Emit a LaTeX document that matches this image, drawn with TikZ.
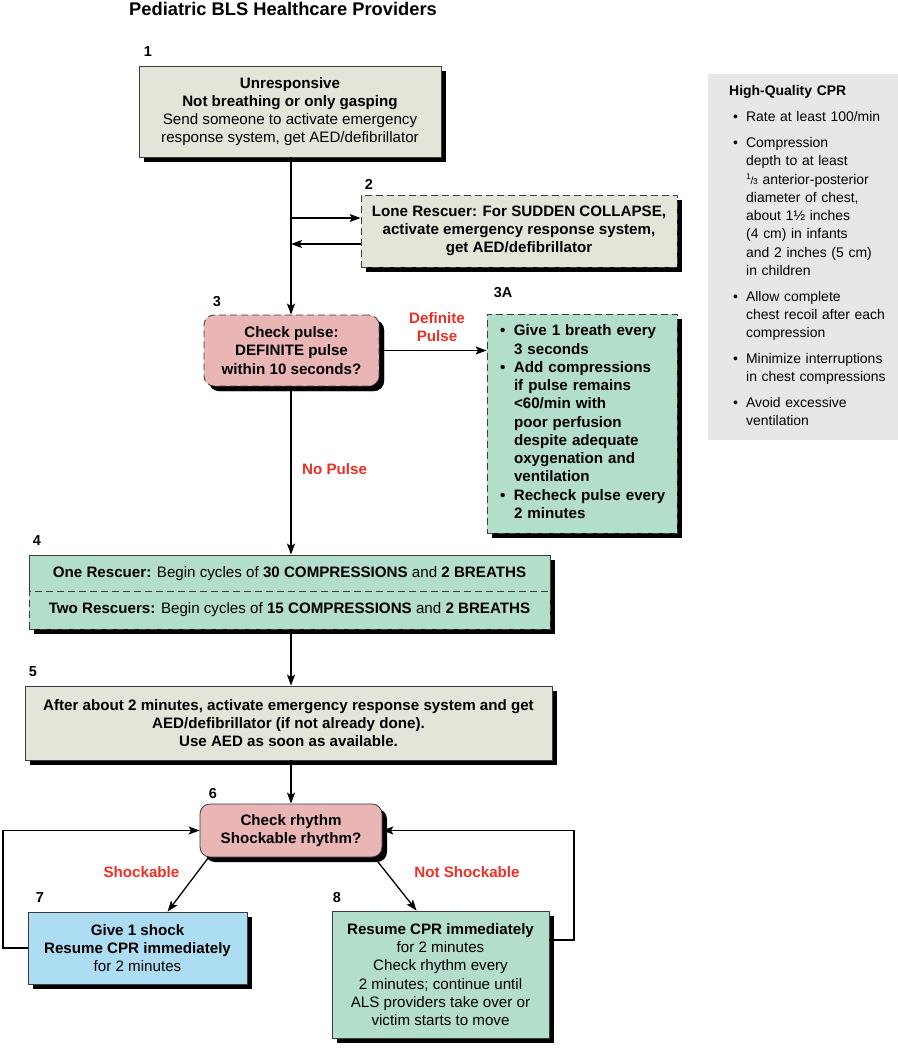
\documentclass[tikz,border=0pt]{standalone}
\usepackage{fontspec}
\setmainfont{Liberation Sans}
\usetikzlibrary{arrows.meta,shadows,calc}
\definecolor{beige}{RGB}{229,228,217}
\definecolor{pinkbox}{RGB}{234,181,181}
\definecolor{tealbox}{RGB}{178,222,203}
\definecolor{bluebox}{RGB}{172,221,243}
\definecolor{panelgray}{RGB}{230,231,232}
\definecolor{redlab}{RGB}{238,48,36}
\definecolor{edgegray}{RGB}{60,60,60}
\newcommand\mysz{\fontsize{15.2}{18.3}\selectfont}
\newcommand\panelsz{\fontsize{14}{18.3}\selectfont}
\newcommand\thirdfrac{\raisebox{0.36em}{\fontsize{8.5}{9}\selectfont 1}\kern-0.3bp{\fontsize{10.5}{11}\selectfont /}\kern-0.3bp{\fontsize{8.5}{9}\selectfont 3}}
\begin{document}
\begin{tikzpicture}[x=1bp,y=-1bp,
  box/.style={draw=edgegray, line width=0.8bp, align=center, inner sep=0pt, font=\mysz,
    drop shadow={shadow xshift=5bp, shadow yshift=-5bp, opacity=1, fill=black}},
  dashedbox/.style={box, dash pattern=on 7bp off 4bp},
  roundbox/.style={box, rounded corners=10bp},
  arr/.style={line width=1.3bp, -{Stealth[length=11bp,width=8bp,inset=2.5bp]}},
  numlab/.style={font=\fontsize{14.5}{14.5}\selectfont\bfseries, inner sep=0pt},
  redtxt/.style={font=\mysz\bfseries, text=redlab, align=center, inner sep=0pt}]
\useasboundingbox (0,0) rectangle (898,1050);

% title
\node[font=\fontsize{18.4}{20}\selectfont\bfseries, anchor=base west, inner sep=0pt] (title) at (129,15.5) {Pediatric BLS Healthcare Providers};

% boxes
\node[box, fill=beige, minimum width=302bp, minimum height=91bp] (b1) at (290,111.5)
 {\textbf{Unresponsive}\\ \textbf{Not breathing or only gasping}\\ Send someone to activate emergency\\ response system, get AED/defibrillator};

\node[dashedbox, fill=beige, minimum width=316bp, minimum height=72bp, font=\mysz\bfseries] (b2) at (519,231)
 {Lone Rescuer: For SUDDEN COLLAPSE,\\ activate emergency response system,\\ get AED/defibrillator};

\node[dashedbox, roundbox, fill=pinkbox, minimum width=175bp, minimum height=71bp, font=\mysz\bfseries] (b3) at (291.5,350.5)
 {Check pulse:\\ DEFINITE pulse\\ within 10 seconds?};

\node[dashedbox, fill=tealbox, minimum width=190bp, minimum height=219bp, text width=164bp, inner xsep=13bp, align=left, font=\mysz\bfseries] (b3a) at (582,423.5)
 {\begin{tabular}{@{}l@{}}
 \textbullet\hspace{8.6bp}Give 1 breath every\\
 \hspace*{14bp}3 seconds\\
 \textbullet\hspace{8.6bp}Add compressions\\
 \hspace*{14bp}if pulse remains\\
 \hspace*{14bp}<60/min with\\
 \hspace*{14bp}poor perfusion\\
 \hspace*{14bp}despite adequate\\
 \hspace*{14bp}oxygenation and\\
 \hspace*{14bp}ventilation\\
 \textbullet\hspace{8.6bp}Recheck pulse every\\
 \hspace*{14bp}2 minutes
 \end{tabular}};

\node[box, fill=tealbox, minimum width=521bp, minimum height=37bp] (b4a) at (289.5,573.5)
 {\textbf{One Rescuer:} Begin cycles of \textbf{30 COMPRESSIONS} and \textbf{2 BREATHS}};
\node[dashedbox, fill=tealbox, minimum width=521bp, minimum height=38bp] (b4b) at (289.5,610)
 {\textbf{Two Rescuers:} Begin cycles of \textbf{15 COMPRESSIONS} and \textbf{2 BREATHS}};

\node[box, fill=beige, minimum width=527bp, minimum height=74bp, font=\mysz\bfseries] (b5) at (288.5,723)
 {After about 2 minutes, activate emergency response system and get\\ AED/defibrillator (if not already done).\\ Use AED as soon as available.};

\node[roundbox, fill=pinkbox, minimum width=182bp, minimum height=53bp, font=\mysz\bfseries] (b6) at (291,830.5)
 {Check rhythm\\ Shockable rhythm?};

\node[box, fill=bluebox, minimum width=219bp, minimum height=72bp] (b7) at (137.5,948)
 {\textbf{Give 1 shock}\\ \textbf{Resume CPR immediately}\\ for 2 minutes};

\node[box, fill=tealbox, minimum width=217bp, minimum height=127bp] (b8) at (440.5,974.5)
 {\textbf{Resume CPR immediately}\\ for 2 minutes\\ Check rhythm every\\ 2 minutes; continue until\\ ALS providers take over or\\ victim starts to move};

% side panel
\node[fill=panelgray, anchor=north west, minimum width=190bp, minimum height=366bp, text width=166bp, inner xsep=12bp, inner ysep=0pt, align=left, font=\panelsz] (cpr) at (708,74)
 {\begin{tabular}{@{}l@{}}
 \hspace*{9bp}\textbf{High-Quality CPR}\\[7.7bp]
 \hspace*{13bp}\textbullet\hspace{8bp}Rate at least 100/min\\[7.7bp]
 \hspace*{13bp}\textbullet\hspace{8bp}Compression\\
 \hspace*{26bp}depth to at least\\
 \hspace*{26bp}\thirdfrac{} anterior-posterior\\
 \hspace*{26bp}diameter of chest,\\
 \hspace*{26bp}about 1½ inches\\
 \hspace*{26bp}(4 cm) in infants\\
 \hspace*{26bp}and 2 inches (5 cm)\\
 \hspace*{26bp}in children\\[7.7bp]
 \hspace*{13bp}\textbullet\hspace{8bp}Allow complete\\
 \hspace*{26bp}chest recoil after each\\
 \hspace*{26bp}compression\\[7.7bp]
 \hspace*{13bp}\textbullet\hspace{8bp}Minimize interruptions\\
 \hspace*{26bp}in chest compressions\\[7.7bp]
 \hspace*{13bp}\textbullet\hspace{8bp}Avoid excessive\\
 \hspace*{26bp}ventilation
 \end{tabular}};

% step numbers
\node[numlab] (n1) at (148,52) {1};
\node[numlab] (n2) at (369,184) {2};
\node[numlab] (n3) at (217,302) {3};
\node[numlab] (n3a) at (503,293) {3A};
\node[numlab] (n4) at (37,541) {4};
\node[numlab] (n5) at (33,672) {5};
\node[numlab] (n6) at (213,794) {6};
\node[numlab] (n7) at (40,898) {7};
\node[numlab] (n8) at (337,898) {8};

% red labels
\node[redtxt] (lDP) at (437,327) {Definite\\Pulse};
\node[redtxt, anchor=west] (lNP) at (302,469) {No Pulse};
\node[redtxt] (lS) at (141.5,872) {Shockable};
\node[redtxt] (lNS) at (467,872) {Not Shockable};

% connectors
\coordinate (j1) at (291,218);
\coordinate (j2) at (291,244);
\coordinate (lx) at (3,948);
\coordinate (rx) at (574,940);
\draw[arr] (b1.south -| j1) -- (b3.north -| j1);
\draw[arr] (j1) -- (j1 -| b2.west);
\draw[arr] (b2.west |- j2) -- (j2);
\draw[arr] (b3.east) -- (b3.east -| b3a.west);
\draw[arr] (b3.south -| j1) -- (b4a.north -| j1);
\draw[arr] (b4b.south -| j1) -- (b5.north -| j1);
\draw[arr] (b5.south -| j1) -- (b6.north -| j1);
\draw[arr] ([xshift=9bp]b6.south west) -- ([xshift=140bp]b7.north west);
\draw[arr] ([xshift=-8bp]b6.south east) -- ([xshift=85bp]b8.north west);
\draw[arr] (b7.west) -- (lx) |- (b6.west);
\draw[arr] (b8.east |- rx) -- (rx) |- (b6.east);
\end{tikzpicture}
\end{document}
